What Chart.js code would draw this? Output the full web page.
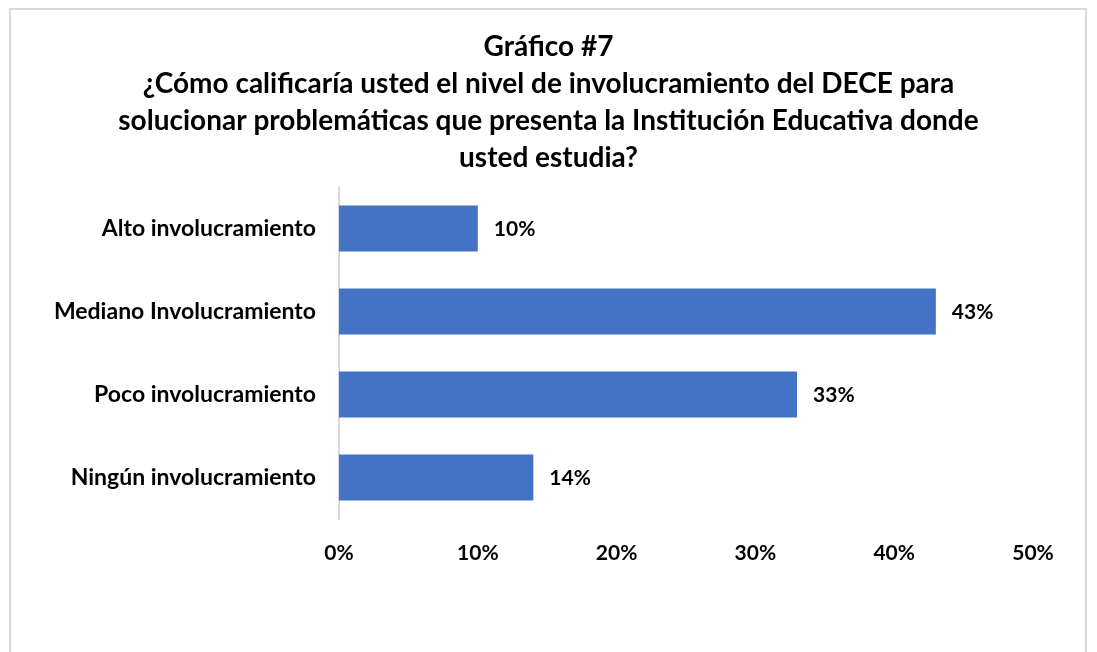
<!DOCTYPE html>
<html>
<head>
<meta charset="utf-8">
<script src="https://cdn.jsdelivr.net/npm/chart.js@4"></script>
<style>
  html, body { margin: 0; padding: 0; background: #fff; overflow: hidden; }
  #frame { position: absolute; left: 9px; top: 8px; width: 1078px; height: 700px; border: 2px solid #d9d9d9; box-sizing: border-box; }
  #wrap { position: absolute; left: 0; top: 0; width: 1097px; height: 652px; }
</style>
</head>
<body>
<div id="frame"></div>
<div id="wrap"><canvas id="c" width="1097" height="652"></canvas></div>
<script>
const titleLines = [
  "Gráfico #7",
  "¿Cómo calificaría usted el nivel de involucramiento del DECE para",
  "solucionar problemáticas que presenta la Institución Educativa donde",
  "usted estudia?"
];
const categories = ["Alto involucramiento", "Mediano Involucramiento", "Poco involucramiento", "Ningún involucramiento"];
const values = [10, 43, 33, 14];
const tickValues = [0, 10, 20, 30, 40, 50];

const FONT = "Lato, 'Open Sans', sans-serif";

const labelPlugin = {
  id: 'barLabels',
  afterDatasetsDraw(chart) {
    const ctx = chart.ctx;
    const meta = chart.getDatasetMeta(0);
    ctx.save();
    ctx.font = "bold 21px " + FONT;
    ctx.fillStyle = "#000";
    ctx.textAlign = "left";
    ctx.textBaseline = "middle";
    meta.data.forEach((bar, i) => {
      ctx.fillText(values[i] + "%", bar.x + 16, bar.y + 1);
    });
    ctx.restore();
  }
};

new Chart(document.getElementById('c'), {
  type: 'bar',
  data: {
    labels: categories,
    datasets: [{
      data: values,
      backgroundColor: '#4472C4',
      borderWidth: 0,
      barPercentage: 0.555,
      categoryPercentage: 1.0
    }]
  },
  plugins: [labelPlugin],
  options: {
    indexAxis: 'y',
    responsive: false,
    animation: false,
    layout: { padding: { left: 37, right: 37, top: 8, bottom: 0 } },
    plugins: {
      legend: { display: false },
      tooltip: { enabled: false },
      title: {
        display: true,
        text: titleLines,
        color: '#000',
        font: { family: FONT, size: 28, weight: 'bold', lineHeight: 1.33 },
        padding: { top: 20, bottom: 10 }
      }
    },
    scales: {
      x: {
        min: 0, max: 50,
        afterBuildTicks(scale) { scale.ticks = tickValues.map(v => ({ value: v })); },
        afterFit(scale) { scale.height = 133; },
        grid: { display: false, drawTicks: false },
        border: { display: false },
        ticks: {
          padding: 22,
          color: '#000',
          font: { family: FONT, size: 21, weight: 'bold' },
          callback: v => v + '%'
        }
      },
      y: {
        afterFit(scale) { scale.width = 302; },
        grid: { display: false, drawTicks: false },
        border: { display: true, color: '#d9d9d9', width: 2 },
        ticks: {
          padding: 23,
          color: '#000',
          font: { family: FONT, size: 23, weight: 'bold' }
        }
      },
      yr: {
        type: 'category',
        position: 'right',
        display: true,
        afterFit(scale) { scale.width = 27; },
        grid: { display: false, drawTicks: false },
        border: { display: false },
        ticks: { display: false }
      }
    }
  }
});
</script>
</body>
</html>
